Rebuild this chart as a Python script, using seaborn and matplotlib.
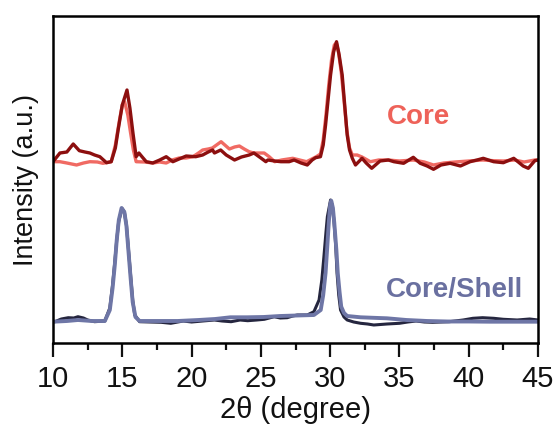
import numpy as np
import pandas as pd
import matplotlib
matplotlib.use("Agg")
import matplotlib.pyplot as plt
import seaborn as sns
from matplotlib.ticker import MultipleLocator

# ---- data (2theta in degrees, intensity in a.u., offset stacked) ----
core_dark_x = [10.0, 10.5, 11.0, 11.46, 11.9, 12.3, 12.66, 13.0, 13.38, 13.86, 14.2, 14.5, 14.7, 15.0,
               15.34, 15.55, 15.77, 16.0, 16.2, 16.5, 16.73, 17.2, 17.7, 18.17, 18.65, 19.1, 19.61, 20.3,
               20.8, 21.2, 21.52, 21.65, 22.1, 22.5, 23.1, 23.6, 24.16, 24.5, 25.0, 25.36, 25.5, 26.0,
               26.44, 27.04, 27.4, 27.9, 28.35, 28.7, 28.95, 29.3, 29.5, 29.67, 29.85, 30.03, 30.25,
               30.46, 30.65, 30.87, 31.05, 31.23, 31.4, 31.6, 31.83, 32.3, 32.6, 33.0, 33.6, 34.2, 34.6,
               35.3, 36.0, 36.5, 37.0, 37.46, 38.0, 38.66, 39.4, 40.1, 40.6, 41.05, 41.8, 42.5, 43.25,
               43.93, 44.3, 44.77, 45.0]
core_dark_y = [181.3, 190, 191, 199, 192.3, 191, 190, 188, 186.3, 180.3, 181.3, 195, 213, 238,
               253, 235, 210, 186.3, 190, 185, 181.3, 180, 183, 186.3, 181.3, 184, 187, 186.3,
               188, 191, 193, 190, 193, 188, 183, 186, 188, 190, 185, 181.3, 183, 182,
               181.3, 181.3, 183, 180, 178, 183, 185.3, 186.3, 198, 218, 243, 268, 291,
               301.3, 288, 268, 238, 208, 193, 184.7, 178, 184.7, 180, 174.7, 182, 183, 181.3,
               179.7, 185.7, 179.7, 177, 173.7, 178, 179.7, 177, 181.3, 183, 184.7, 181.3, 180.3, 184.7,
               177, 174.7, 182.3, 183]

core_light_x = [10.0, 10.5, 11.0, 11.7, 12.2, 12.66, 13.2, 13.6, 14.2, 14.5, 14.8, 15.0, 15.17, 15.4,
                15.6, 15.8, 16.0, 16.6, 17.2, 17.7, 18.17, 18.6, 19.1, 19.6, 20.1, 20.5, 20.8, 21.2,
                21.5, 21.8, 22.13, 22.4, 22.73, 23.1, 23.45, 23.8, 24.15, 24.5, 24.9, 25.24, 25.6, 26.0,
                26.5, 27.3, 27.8, 28.3, 29.0, 29.3, 29.5, 29.7, 29.9, 30.1, 30.3, 30.45, 30.6, 30.8,
                31.0, 31.2, 31.4, 31.6, 31.95, 32.3, 32.9, 33.5, 34.2, 35.0, 36.0, 36.8, 37.46, 38.2,
                39.0, 40.0, 41.0, 41.8, 42.5, 43.3, 44.0, 44.77, 45.0]
core_light_y = [181.3, 181.3, 180, 178, 180, 181.3, 181, 179.7, 181.3, 198, 223, 238, 241.3, 228,
                210, 193, 181.3, 181, 180, 181, 180, 183, 185, 185, 186.3, 190, 193, 194,
                195, 198, 201.3, 198, 194, 196, 197, 194, 191.3, 190, 190, 190, 186.3, 181.3,
                183, 184.7, 183, 181.3, 186.3, 189, 203, 228, 258, 283, 298, 300, 291, 271,
                243, 213, 195, 188, 188, 186, 181.3, 183, 183, 182, 183, 181, 178, 180,
                181, 182, 183, 182.3, 182, 183, 181, 183, 183]

cs_dark_x = [10.0, 10.14, 10.6, 11.1, 11.5, 11.8, 12.2, 12.5, 13.0, 13.74, 14.1, 14.3, 14.46, 14.6,
             14.74, 14.98, 15.15, 15.3, 15.45, 15.6, 15.75, 15.9, 16.25, 17.0, 17.8, 18.5, 19.4, 20.0,
             20.8, 21.65, 22.2, 22.85, 23.5, 24.05, 24.7, 25.25, 25.96, 26.4, 26.9, 27.3, 27.63, 28.35,
             28.83, 29.2, 29.4, 29.55, 29.7, 29.8, 30.03, 30.15, 30.27, 30.4, 30.5, 30.62, 30.75, 31.0,
             31.23, 31.7, 32.2, 32.7, 33.15, 34.1, 35.0, 35.6, 36.2, 36.8, 37.4, 38.0, 38.6, 39.6,
             40.3, 41.0, 41.8, 42.5, 43.5, 44.4, 45.0]
cs_dark_y = [21, 21.3, 24, 25.3, 25, 26.3, 25, 23, 21.3, 22, 35, 58, 81.3, 103,
             121.3, 134.7, 131, 118, 93, 68, 43, 28, 21.3, 21, 20.7, 19.7, 22, 21,
             22, 23, 22, 21.3, 23, 22.3, 23, 23.7, 26.3, 25, 25.3, 27, 28, 28,
             31.3, 43, 63, 86.3, 111, 126.3, 143, 138, 123, 98, 69.7, 48, 33, 26,
             23, 21, 19.7, 19, 18, 19, 19.7, 21, 22, 21, 20.7, 21, 21.3, 23,
             24.7, 25.3, 24.7, 23.7, 23, 24, 23]

cs_light_x = [10.0, 11.0, 11.8, 12.8, 13.74, 14.1, 14.3, 14.46, 14.6, 14.75, 14.95, 15.15, 15.3, 15.45,
              15.6, 15.75, 15.95, 16.25, 17.5, 19.0, 20.5, 21.7, 22.8, 24.0, 25.2, 26.4, 27.6, 28.83,
              29.32, 29.5, 29.67, 29.8, 29.9, 30.0, 30.08, 30.2, 30.3, 30.45, 30.55, 30.68, 30.8, 31.0,
              31.23, 32.2, 33.5, 34.1, 35.5, 37.0, 38.5, 40.0, 41.5, 43.0, 45.0]
cs_light_y = [21.3, 22, 23, 22, 22, 33, 55, 78, 103, 123, 135, 131, 117, 91,
              65, 41, 26, 22, 22, 22, 23, 24, 25.7, 25.7, 26, 27, 27.5, 28,
              33, 48, 70, 98, 120, 138, 142.3, 135, 120, 93, 70, 51, 36.3, 30,
              27, 25.7, 25, 24.7, 23, 22, 21.5, 21.5, 21.3, 21.3, 21.3]

x_ticks = [10, 15, 20, 25, 30, 35, 40, 45]
labels = ["Core", "Core/Shell"]

# ---- styling ----
sns.set_style("ticks")
plt.rcParams['font.family'] = ['Liberation Sans', 'DejaVu Sans']
plt.rcParams['text.color'] = '#111111'
plt.rcParams['axes.labelcolor'] = '#111111'
plt.rcParams['xtick.color'] = '#111111'
plt.rcParams['xtick.labelcolor'] = '#111111'

c_core_dark = "#8c0f0f"
c_core_light = "#f06a63"
c_cs_dark = "#25263f"
c_cs_light = "#6e76a6"

fig = plt.figure(figsize=(5.55, 4.32), dpi=100)
ax = fig.add_axes([53/555, 1-343/432, 485/555, 327/432])

def draw(xs, ys, color, lw):
    df = pd.DataFrame({"x": xs, "y": ys})
    sns.lineplot(data=df, x="x", y="y", ax=ax, color=color, lw=lw, sort=False,
                 estimator=None, solid_joinstyle="round", solid_capstyle="round")

draw(core_light_x, core_light_y, c_core_light, 2.4)
draw(core_dark_x, core_dark_y, c_core_dark, 2.4)
draw(cs_dark_x, cs_dark_y, c_cs_dark, 2.2)
draw(cs_light_x, cs_light_y, c_cs_light, 2.8)

ax.set_xlim(10, 45)
ax.set_ylim(0, 327)
ax.set_xticks(x_ticks)
ax.set_xticklabels([str(t) for t in x_ticks])
ax.xaxis.set_minor_locator(MultipleLocator(2.5))
ax.set_yticks([])
ax.tick_params(axis='x', which='major', length=10, width=1.6, direction='out',
               labelsize=21, pad=6, colors='#111111')
ax.tick_params(axis='x', which='minor', length=5, width=1.6, direction='out', colors='#111111')
for s in ax.spines.values():
    s.set_linewidth(1.8)
    s.set_color('black')

ax.set_xlabel("2\u03b8 (degree)", fontsize=21, labelpad=2, color='#111111')
ax.set_ylabel("Intensity (a.u.)", fontsize=19.5, labelpad=10, color='#111111')

ax.text(36.4, 226, labels[0], color="#ee6259", fontsize=20, fontweight='bold',
        ha='center', va='center')
ax.text(39.0, 53, labels[1], color="#6a70a0", fontsize=20, fontweight='bold',
        ha='center', va='center')

fig.savefig("out.png", dpi=100)
